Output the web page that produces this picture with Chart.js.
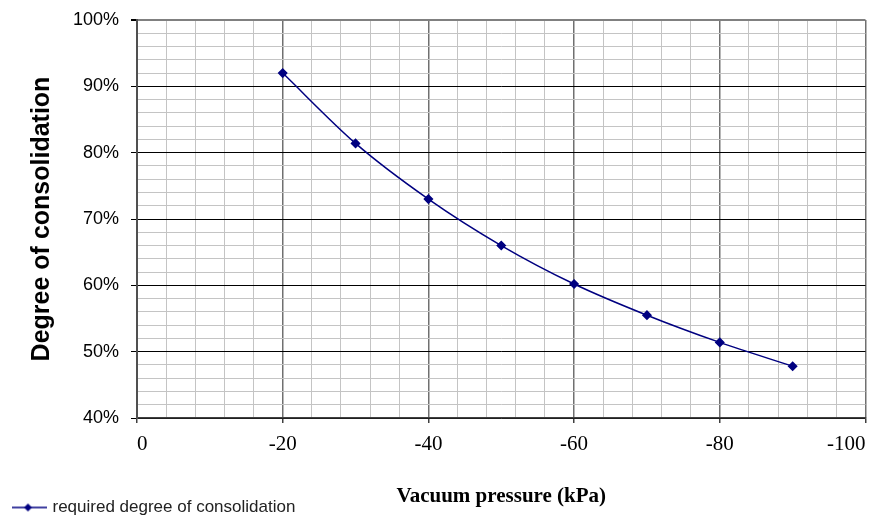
<!DOCTYPE html>
<html lang="en">
<head>
<meta charset="UTF-8">
<title>Degree of consolidation</title>
<script src="https://cdn.jsdelivr.net/npm/chart.js"></script>
<style>
  body { margin: 0; background: #fff; }
  canvas { display: block; }
</style>
</head>
<body>
<canvas id="grafico" width="871" height="516"></canvas>
<script>
// values
const pressao = [-20, -30, -40, -50, -60, -70, -80, -90];
const consolidacao = [92.0, 81.4, 73.0, 66.0, 60.2, 55.5, 51.4, 47.8];
const xTicks = [0, -20, -40, -60, -80, -100];
const yTicks = [40, 50, 60, 70, 80, 90, 100];
const serieNome = 'required degree of consolidation';

const azul = '#000080';

// legend symbol: line with a diamond in the middle
const marca = document.createElement('canvas');
marca.width = 37;
marca.height = 10;
const mc = marca.getContext('2d');
mc.strokeStyle = azul;
mc.lineWidth = 1.5;
mc.beginPath();
mc.moveTo(0, 5);
mc.lineTo(37, 5);
mc.stroke();
mc.fillStyle = azul;
mc.beginPath();
mc.moveTo(18.5, 1);
mc.lineTo(22.5, 5);
mc.lineTo(18.5, 9);
mc.lineTo(14.5, 5);
mc.closePath();
mc.fill();

// the axis runs 0 .. -100 left to right, plotted on its magnitude
const ehMajorX = v => v % 20 === 0;
const ehMajorY = v => v % 10 === 0;

new Chart(document.getElementById('grafico'), {
  type: 'line',
  data: {
    datasets: [{
      label: serieNome,
      data: pressao.map((p, i) => ({ x: -p, y: consolidacao[i] })),
      borderColor: azul,
      backgroundColor: azul,
      borderWidth: 1.5,
      pointStyle: 'rectRot',
      pointRadius: 4,
      pointHoverRadius: 4,
      tension: 0.3,
      fill: false
    }]
  },
  options: {
    responsive: false,
    animation: false,
    layout: { padding: { left: 12, right: 5, top: 20, bottom: 0 } },
    plugins: {
      tooltip: { enabled: false },
      legend: {
        position: 'bottom',
        align: 'start',
        maxHeight: 17,
        labels: {
          usePointStyle: true,
          pointStyle: marca,
          pointStyleWidth: 32,
          padding: 0,
          color: '#222',
          font: { family: 'Liberation Sans, Arial, sans-serif', size: 17 }
        }
      }
    },
    scales: {
      x: {
        type: 'linear',
        min: 0,
        max: 100,
        ticks: {
          stepSize: 4,
          autoSkip: false,
          maxRotation: 0,
          align: 'inner',
          padding: 9,
          color: '#000',
          font: { family: 'Liberation Serif, Times New Roman, serif', size: 21 },
          callback: v => xTicks.includes(-v) ? String(-v) : ''
        },
        grid: {
          color: ctx => ehMajorX(ctx.tick.value) ? '#707070' : '#c4c4c4',
          lineWidth: ctx => ehMajorX(ctx.tick.value) ? 1.5 : 1,
          tickColor: ctx => ehMajorX(ctx.tick.value) ? '#404040' : 'rgba(0,0,0,0)',
          tickLength: 5
        },
        border: { color: '#404040', width: 1.5 },
        title: {
          display: true,
          text: 'Vacuum pressure (kPa)',
          color: '#000',
          font: { family: 'Liberation Serif, Times New Roman, serif', size: 21, weight: 'bold' },
          padding: { top: 0, bottom: -10 }
        },
        afterFit: s => {
          s.height = 81;
          s.paddingLeft = 0;
          s.paddingRight = 0;
        }
      },
      y: {
        min: 40,
        max: 100,
        ticks: {
          stepSize: 2,
          autoSkip: false,
          padding: 12,
          color: '#000',
          font: { family: 'Liberation Sans, Arial, sans-serif', size: 18 },
          callback: v => yTicks.includes(v) ? v + '%' : ''
        },
        grid: {
          color: ctx => ctx.tick.value === 100 ? '#808080' : (ehMajorY(ctx.tick.value) ? '#000' : '#c4c4c4'),
          lineWidth: ctx => ctx.tick.value === 100 ? 2 : 1,
          tickColor: ctx => ehMajorY(ctx.tick.value) ? '#000' : 'rgba(0,0,0,0)',
          tickLength: 6
        },
        border: { color: '#505050', width: 2 },
        title: {
          display: true,
          text: 'Degree of consolidation',
          color: '#000',
          font: { family: 'Liberation Sans, Arial, sans-serif', size: 25, weight: 'bold' },
          padding: { top: 15, bottom: 0 }
        },
        afterFit: s => {
          s.width = 125;
          s.paddingTop = 0;
          s.paddingBottom = 0;
        }
      }
    }
  }
});
</script>
</body>
</html>
